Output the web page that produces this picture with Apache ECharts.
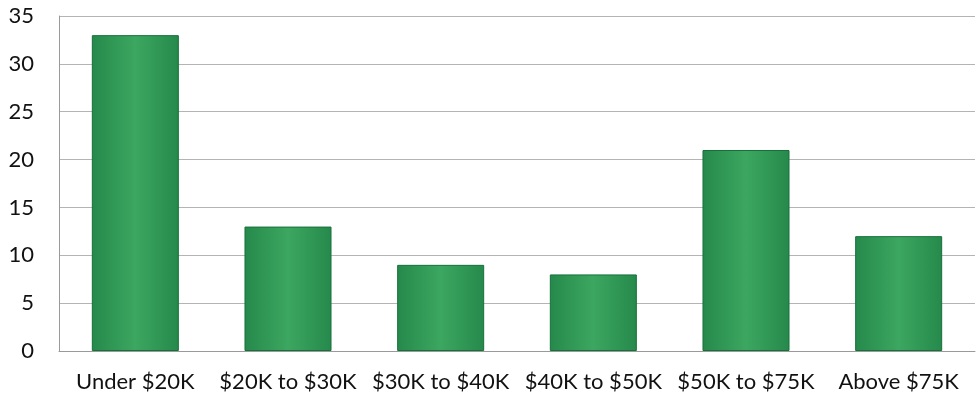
<!DOCTYPE html>
<html>
<head>
<meta charset="utf-8">
<script src="https://cdn.jsdelivr.net/npm/echarts@6/dist/echarts.min.js"></script>
<style>
  html, body { margin: 0; padding: 0; background: #ffffff; }
  #chart { width: 980px; height: 398px; }
</style>
</head>
<body>
<div id="chart"></div>
<script>
// Household income brackets and respondent counts
const categories = ['Under $20K', '$20K to $30K', '$30K to $40K', '$40K to $50K', '$50K to $75K', 'Above $75K'];
const counts = [33, 13, 9, 8, 21, 12];
const yTicks = { min: 0, max: 35, interval: 5 };

const chart = echarts.init(document.getElementById('chart'));

const barFill = new echarts.graphic.LinearGradient(0, 0, 1, 0, [
  { offset: 0, color: '#25894b' },
  { offset: 0.5, color: '#3ca760' },
  { offset: 1, color: '#25894b' }
]);

chart.setOption({
  animation: false,
  grid: { left: 59, right: 5, top: 16, bottom: 47, containLabel: false },
  xAxis: {
    type: 'category',
    data: categories,
    axisLine: { show: true, lineStyle: { color: '#9a9a9a', width: 1 } },
    axisTick: { show: false },
    axisLabel: {
      interval: 0,
      hideOverlap: false,
      color: '#111111',
      fontFamily: 'Lato, "Open Sans", sans-serif',
      fontSize: 22,
      margin: 20
    }
  },
  yAxis: {
    type: 'value',
    min: yTicks.min,
    max: yTicks.max,
    interval: yTicks.interval,
    axisLine: { show: true, lineStyle: { color: '#9a9a9a', width: 1 } },
    axisTick: { show: false },
    splitLine: { show: true, lineStyle: { color: '#b4b4b4', width: 1 } },
    axisLabel: {
      color: '#111111',
      fontFamily: 'Lato, "Open Sans", sans-serif',
      fontSize: 22,
      margin: 25
    }
  },
  series: [{
    type: 'bar',
    data: counts,
    barWidth: '57%',
    itemStyle: {
      color: barFill,
      borderColor: '#17703a',
      borderWidth: 1
    }
  }]
});
</script>
</body>
</html>
